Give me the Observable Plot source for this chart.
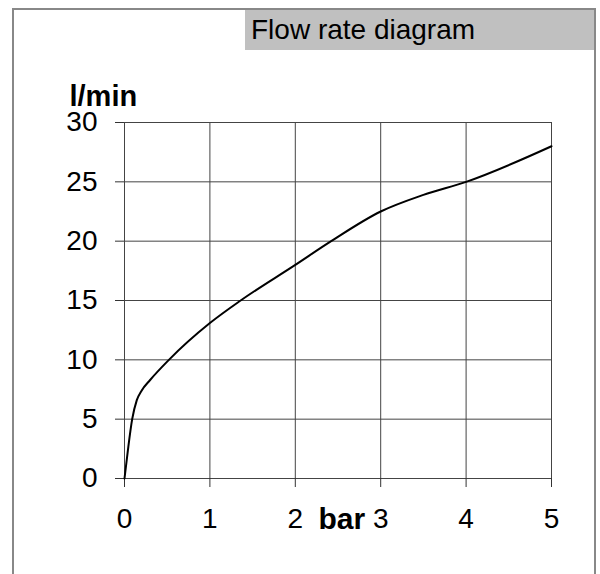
<!DOCTYPE html>
<html>
<head>
<meta charset="utf-8">
<script src="https://cdn.jsdelivr.net/npm/d3@7"></script>
<script src="https://cdn.jsdelivr.net/npm/@observablehq/plot@0.6"></script>
<style>
  html, body { margin: 0; padding: 0; background: #fff; }
  #wrap { position: relative; width: 600px; height: 574px; overflow: hidden; font-family: "Liberation Sans", Arial, sans-serif; }
  #frame { position: absolute; left: 12px; top: 8px; width: 584px; height: 600px; box-sizing: border-box; border: 2px solid #888; border-bottom: none; }
  #title { position: absolute; left: 245px; top: 10px; width: 349px; height: 40px; background: #c0c0c0; font-size: 28px; line-height: 40px; padding-left: 6px; box-sizing: border-box; color: #000; white-space: nowrap; }
  #chart { position: absolute; left: 0; top: 0; }
</style>
</head>
<body>
<div id="wrap">
  <div id="frame"></div>
  <div id="title">Flow rate diagram</div>
  <div id="chart"></div>
</div>
<script>
const pressure = [0, 0.04, 0.09, 0.144, 0.2, 0.3, 0.52, 1, 1.36, 2, 2.42, 3, 3.5, 4, 5];
const flow     = [0, 2.4, 5, 6.6, 7.4, 8.3, 10, 13.1, 15, 18, 20, 22.5, 23.9, 25, 28];
const xTicks = [0, 1, 2, 3, 4, 5];
const yTicks = [0, 5, 10, 15, 20, 25, 30];
const yLabel = "l/min";
const xLabel = "bar";

const data = pressure.map((p, i) => ({p, q: flow[i]}));

const chart = Plot.plot({
  width: 600,
  height: 574,
  marginLeft: 124,
  marginRight: 49,
  marginTop: 122,
  marginBottom: 96,
  style: {fontFamily: "Liberation Sans, Arial, sans-serif", background: "transparent", color: "#000"},
  x: {domain: [0, 5]},
  y: {domain: [0, 30]},
  marks: [
    Plot.gridX(xTicks, {stroke: "#444", strokeOpacity: 1}),
    Plot.gridY(yTicks, {stroke: "#444", strokeOpacity: 1}),
    Plot.axisX(xTicks, {tickSize: 9, tickPadding: 21, fontSize: 28, label: null, stroke: "#333"}),
    Plot.axisY(yTicks, {tickSize: 9, tickPadding: 18, fontSize: 28, label: null, stroke: "#333"}),
    Plot.line(data, {x: "p", y: "q", curve: "monotone-x", stroke: "#000", strokeWidth: 2}),
    Plot.text([yLabel], {frameAnchor: "top-left", dx: -55, dy: -17, textAnchor: "start", lineAnchor: "bottom", fontWeight: "bold", fontSize: 29}),
    Plot.text([xLabel], {frameAnchor: "bottom-left", dx: 194, dy: 50, textAnchor: "start", lineAnchor: "bottom", fontWeight: "bold", fontSize: 30})
  ]
});
document.getElementById("chart").appendChild(chart);
</script>
</body>
</html>
